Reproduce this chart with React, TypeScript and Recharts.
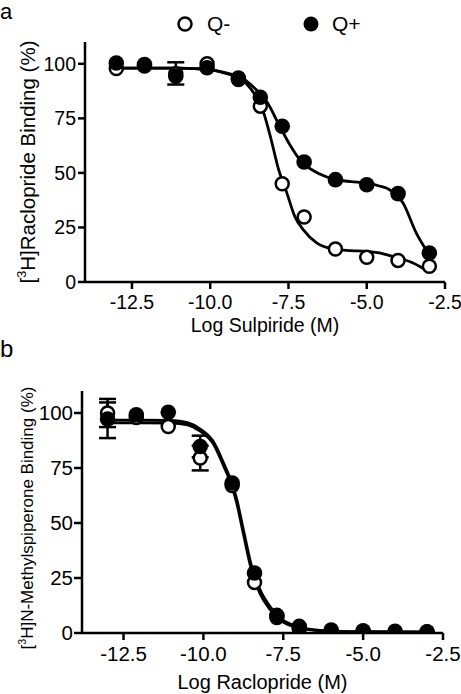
import React from 'react';
import { ComposedChart, Line, Scatter, XAxis, YAxis, ErrorBar, Label } from 'recharts';

const FONT = '"Liberation Sans", Arial, Helvetica, sans-serif';

// ---- Panel a: Log Sulpiride ----
const aX = [-13, -12.1, -11.1, -10.1, -9.1, -8.4, -7.7, -7, -6, -5, -4, -3];
const aQminus = [97.8, 99, 95.5, 100, 93.5, 80.6, 45, 29.8, 15.1, 11.3, 9.9, 7.2];
const aQplus = [100.4, 99.7, 94.3, 98.2, 92.8, 84.7, 71.4, 55, 46.9, 44.6, 40.5, 13.3];
const aErrX = [-11.1];
const aErrY = [94.3];
const aErrVal: [number, number][] = [[3.8, 6.4]];

const aCurveMinusX = [-13, -12, -11, -10.5, -10, -9.5, -9.05, -8.7, -8.52, -8.31, -8.04, -7.83, -7.56, -7.3, -7.03, -6.6, -6.07, -5.5, -5.01, -4.5, -4.16, -3.52, -3.04];
const aCurveMinusY = [98, 98, 98, 97.8, 97.3, 95.6, 93.3, 88.5, 84.4, 78.3, 64.5, 52.3, 41.2, 30.1, 24, 17.9, 15.1, 14.4, 14, 13, 11.7, 8.7, 4.9];
const aCurvePlusX = [-13, -12, -11, -10.5, -10, -9.37, -9, -8.63, -8.2, -7.78, -7.46, -7.14, -6.98, -6.5, -6.02, -5.5, -5.01, -4.6, -4.27, -3.84, -3.42, -3.04];
const aCurvePlusY = [98, 98, 98, 97.8, 97.2, 95.4, 93.6, 89.5, 82.8, 71.4, 63, 56.1, 53.8, 49.5, 47, 46, 45.4, 44, 42.3, 36.2, 22.5, 13.3];

// ---- Panel b: Log Raclopride ----
const bX = [-13, -12.1, -11.1, -10.1, -9.1, -8.4, -7.7, -7, -6, -5, -4, -3];
const bQminus = [100, 98, 93.9, 79.5, 67, 23, 7, 2, 0.8, 0.5, 0.4, 0.4];
const bQplus = [97.3, 99.2, 100.3, 84.8, 68.2, 27.3, 8, 3, 1.3, 1.0, 0.8, 0.6];
const bErrMinusX = [-13, -10.1];
const bErrMinusY = [100, 79.5];
const bErrMinusVal = [6.4, 5.6];
const bErrPlusX = [-13, -10.1];
const bErrPlusY = [97.3, 84.8];
const bErrPlusVal: [number, number][] = [[8.7, 7.5], [4.9, 4.9]];

const bCurveX = [-13, -12, -11, -10.5, -10.1, -9.69, -9.37, -9.11, -8.96, -8.75, -8.49, -8.23, -7.92, -7.6, -7.08, -6.35, -5, -3];
const bCurvePlusY = [96.8, 96.8, 96.6, 95.6, 92.7, 87, 77.3, 68.2, 61, 47, 30.3, 19.7, 12.1, 6.8, 3, 1.2, 0.6, 0.5];
const bCurveMinusY = [95.5, 95.5, 95.4, 94.6, 91.8, 86, 76, 66.8, 59.3, 45.2, 28.4, 18, 10.8, 6, 2.6, 1, 0.5, 0.4];

const xTicks = [-12.5, -10, -7.5, -5, -2.5];
const yTicks = [0, 25, 50, 75, 100];

const zip = (xs: number[], ys: number[]) => xs.map((x, i) => ({ x, y: ys[i] }));
const zipErr = (xs: number[], ys: number[], es: any[]) => xs.map((x, i) => ({ x, y: ys[i], e: es[i] }));

const OpenDot = (p: any) => (
  <circle cx={p.cx} cy={p.cy} r={6.5} fill="#fff" stroke="#000" strokeWidth={2.5} />
);
const FilledDot = (p: any) => <circle cx={p.cx} cy={p.cy} r={7.8} fill="#000" stroke="none" />;
const NoDot = () => <g />;

const axisStyle = { stroke: '#000', strokeWidth: 2.5 };

const xTitle = (text: string, dy: number, size: number) => (props: any) => {
  const vb = props.viewBox || { x: 0, y: 0, width: 0 };
  return (
    <text x={vb.x + vb.width / 2} y={vb.y + dy} textAnchor="middle" fontSize={size} fontFamily={FONT} fill="#000">
      {text}
    </text>
  );
};

const yTitle = (rest: string, bx: number, dyCenter: number, size: number) => (props: any) => {
  const vb = props.viewBox || { x: 0, y: 0, height: 0 };
  const cy = vb.y + vb.height / 2 + dyCenter;
  return (
    <text
      x={bx}
      y={cy}
      transform={`rotate(-90 ${bx} ${cy})`}
      textAnchor="middle"
      fontSize={size}
      fontFamily={FONT}
      fill="#000"
    >
      [<tspan fontSize={size * 0.62} dy={-size * 0.42}>3</tspan>
      <tspan dy={size * 0.42}>{rest}</tspan>
    </text>
  );
};

const Panel = (props: {
  height: number;
  top: number;
  right: number;
  yWidth: number;
  xHeight: number;
  xDomain: [number, number];
  tickFont: number;
  yTickSize: number;
  yTickMargin: number;
  xTitleText: string;
  xTitleDy: number;
  xTitleSize: number;
  yTitleRest: string;
  yTitleX: number;
  yTitleDy: number;
  yTitleSize: number;
  curveMinus: { x: number; y: number }[];
  curvePlus: { x: number; y: number }[];
  ptsMinus: { x: number; y: number }[];
  ptsPlus: { x: number; y: number }[];
  errSets: { x: number; y: number; e: any }[][];
}) => {
  const tickStyle = { fill: '#000', fontSize: props.tickFont, fontFamily: FONT };
  return (
    <ComposedChart
      width={461}
      height={props.height}
      margin={{ top: props.top, right: props.right, left: 0, bottom: 0 }}
    >
      <XAxis
        type="number"
        dataKey="x"
        domain={props.xDomain}
        ticks={xTicks}
        allowDataOverflow
        tickFormatter={(v: number) => v.toFixed(1)}
        tickSize={7}
        tickMargin={6}
        tick={tickStyle}
        axisLine={axisStyle}
        tickLine={axisStyle}
        height={props.xHeight}
        interval={0}
      >
        <Label content={xTitle(props.xTitleText, props.xTitleDy, props.xTitleSize)} />
      </XAxis>
      <YAxis
        type="number"
        domain={[0, 110]}
        ticks={yTicks}
        allowDataOverflow
        tickSize={props.yTickSize}
        tickMargin={props.yTickMargin}
        tick={tickStyle}
        axisLine={axisStyle}
        tickLine={axisStyle}
        width={props.yWidth}
        interval={0}
      >
        <Label content={yTitle(props.yTitleRest, props.yTitleX, props.yTitleDy, props.yTitleSize)} />
      </YAxis>
      <Line data={props.curveMinus} dataKey="y" type="monotone" dot={false} stroke="#000" strokeWidth={2.8} isAnimationActive={false} />
      <Line data={props.curvePlus} dataKey="y" type="monotone" dot={false} stroke="#000" strokeWidth={2.8} isAnimationActive={false} />
      <Scatter data={props.ptsMinus} dataKey="y" shape={OpenDot} isAnimationActive={false} />
      <Scatter data={props.ptsPlus} dataKey="y" shape={FilledDot} isAnimationActive={false} />
      {props.errSets.map((set, i) => (
        <Scatter key={i} data={set} dataKey="y" shape={NoDot} isAnimationActive={false}>
          <ErrorBar dataKey="e" direction="y" width={8.5} stroke="#000" strokeWidth={2.5} isAnimationActive={false} />
        </Scatter>
      ))}
    </ComposedChart>
  );
};

export default function App() {
  return (
    <div style={{ position: 'absolute', left: 0, top: 0, width: 461, height: 694, background: '#fff', fontFamily: FONT }}>
      <div style={{ position: 'absolute', left: 0, top: 0 }}>
        <Panel
          height={340}
          top={42}
          right={16}
          yWidth={85}
          xHeight={58}
          xDomain={[-14, -2.5]}
          tickFont={19.5}
          yTickSize={7}
          yTickMargin={2}
          xTitleText="Log Sulpiride (M)"
          xTitleDy={50}
          xTitleSize={19.5}
          yTitleRest="H]Raclopride Binding (%)"
          yTitleX={35}
          yTitleDy={0}
          yTitleSize={20.5}
          curveMinus={zip(aCurveMinusX, aCurveMinusY)}
          curvePlus={zip(aCurvePlusX, aCurvePlusY)}
          ptsMinus={zip(aX, aQminus)}
          ptsPlus={zip(aX, aQplus)}
          errSets={[zipErr(aErrX, aErrY, aErrVal)]}
        />
      </div>
      <div style={{ position: 'absolute', left: 0, top: 340 }}>
        <Panel
          height={354}
          top={51}
          right={18}
          yWidth={82}
          xHeight={61}
          xDomain={[-13.8, -2.5]}
          tickFont={20.5}
          yTickSize={8}
          yTickMargin={1}
          xTitleText="Log Raclopride (M)"
          xTitleDy={56}
          xTitleSize={20}
          yTitleRest="H]N-Methylspiperone Binding (%)"
          yTitleX={33}
          yTitleDy={6}
          yTitleSize={17}
          curveMinus={bCurveX.map((x, i) => ({ x, y: bCurveMinusY[i] }))}
          curvePlus={bCurveX.map((x, i) => ({ x, y: bCurvePlusY[i] }))}
          ptsMinus={zip(bX, bQminus)}
          ptsPlus={zip(bX, bQplus)}
          errSets={[zipErr(bErrMinusX, bErrMinusY, bErrMinusVal), zipErr(bErrPlusX, bErrPlusY, bErrPlusVal)]}
        />
      </div>
      <svg width={461} height={694} style={{ position: 'absolute', left: 0, top: 0, pointerEvents: 'none' }}>
        <text x={0} y={19} fontSize={22} fontFamily={FONT} fill="#000">a</text>
        <text x={0} y={357} fontSize={24} fontFamily={FONT} fill="#000">b</text>
        <circle cx={185} cy={24} r={6.5} fill="#fff" stroke="#000" strokeWidth={2.5} />
        <text x={207} y={31} fontSize={21} fontFamily={FONT} fill="#000">Q-</text>
        <circle cx={311} cy={24} r={7.5} fill="#000" />
        <text x={332} y={31} fontSize={21} fontFamily={FONT} fill="#000">Q+</text>
      </svg>
    </div>
  );
}
